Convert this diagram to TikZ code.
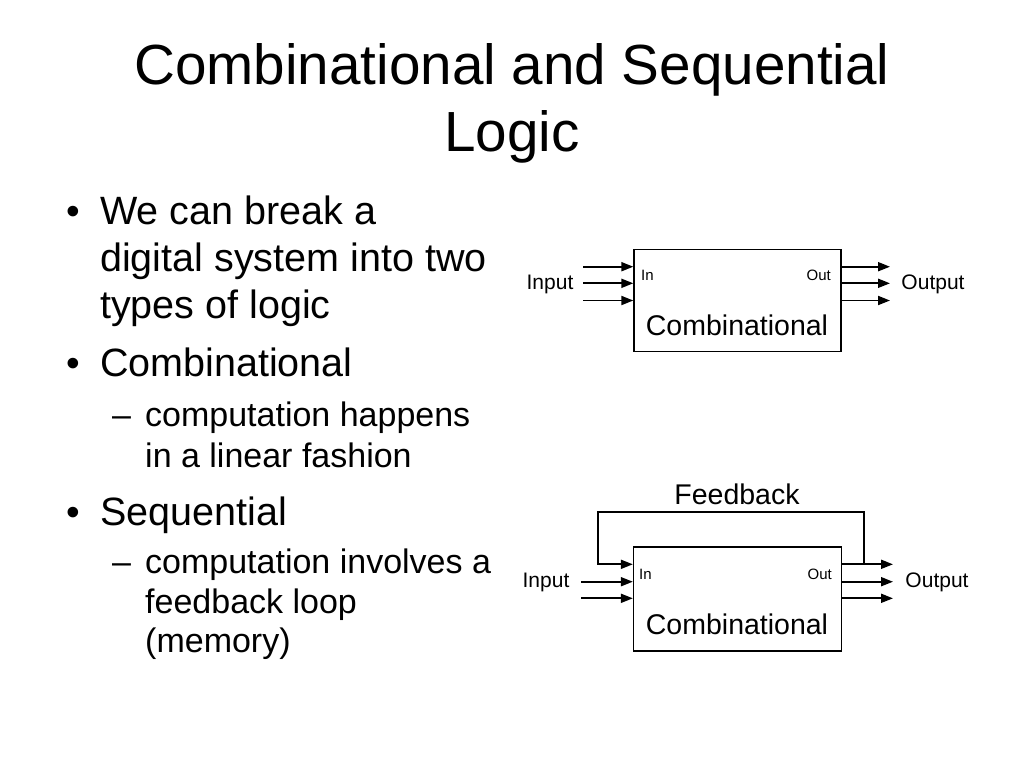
\documentclass[tikz,border=0pt]{standalone}
\usepackage{fontspec}
\setmainfont{Liberation Sans}
\usetikzlibrary{positioning, arrows.meta}

\tikzset{
  wire/.style={line width=1.8pt, -{Triangle[length=12pt, width=9pt]}},
  logicbox/.style={draw, line width=1.3pt, minimum width=207pt, minimum height=102pt, inner sep=0pt},
  txt/.style={inner sep=0pt, anchor=base west},
}
\newcommand{\fsz}[2]{\fontsize{#1}{#2}\selectfont}

\begin{document}
\begin{tikzpicture}[x=1pt, y=-1pt]
  \useasboundingbox (0,0) rectangle (1024,768);
  \fill[white] (0,0) rectangle (1024,768);

  % title
  \node[inner sep=0pt, anchor=base, font=\fsz{56.6}{67}] (title1) at (512,84) {Combinational and Sequential};
  \node[inner sep=0pt, anchor=base, font=\fsz{56.6}{67}] (title2) at (512,151) {Logic};

  % bullets
  \node[txt, font=\fsz{39}{47}] (b1) at (66,224) {•};
  \node[txt, font=\fsz{39.5}{47}] (l1) at (100,224) {We can break a};
  \node[txt, font=\fsz{39.5}{47}] (l2) at (100,271) {digital system into two};
  \node[txt, font=\fsz{39.5}{47}] (l3) at (100,318) {types of logic};
  \node[txt, font=\fsz{39}{47}] (b2) at (66,376) {•};
  \node[txt, font=\fsz{39.5}{47}] (l4) at (100,376) {Combinational};
  \node[txt, font=\fsz{34}{41}] (d1) at (112,426) {–};
  \node[txt, font=\fsz{34}{41}] (l5) at (145,426) {computation happens};
  \node[txt, font=\fsz{34}{41}] (l6) at (145,467) {in a linear fashion};
  \node[txt, font=\fsz{39}{47}] (b3) at (66,525) {•};
  \node[txt, font=\fsz{39.5}{47}] (l7) at (100,525) {Sequential};
  \node[txt, font=\fsz{34}{41}] (d2) at (112,573) {–};
  \node[txt, font=\fsz{34}{41}] (l8) at (145,573) {computation involves a};
  \node[txt, font=\fsz{34}{41}] (l9) at (145,613) {feedback loop};
  \node[txt, font=\fsz{34}{41}] (l10) at (145,652) {(memory)};

  % combinational block
  \node[logicbox] (comb) at (737.5,300.5) {};
  \node[font=\fsz{28.5}{34}] (combname) at (737,325) {Combinational};
  \node[inner sep=0pt, anchor=west, font=\fsz{15}{18}] (combin) at (641,275) {In};
  \node[inner sep=0pt, anchor=east, font=\fsz{15}{18}] (combout) at (831,275) {Out};
  \node[font=\fsz{21}{25}] (input) at (550,284) {Input};
  \node[font=\fsz{21}{25}] (output) at (933,284) {Output};
  \coordinate (in1) at (583,266.7);
  \coordinate (in2) at (583,283.3);
  \coordinate (in3) at (583,300.5);
  \coordinate (out1) at (890,266.7);
  \coordinate (out2) at (890,283.3);
  \coordinate (out3) at (890,300.5);
  \draw[wire] (in1) -- (in1 -| comb.west);
  \draw[wire] (in2) -- (in2 -| comb.west);
  \draw[wire] (in3) -- (in3 -| comb.west);
  \draw[wire] (out1 -| comb.east) -- (out1);
  \draw[wire] (out2 -| comb.east) -- (out2);
  \draw[wire] (out3 -| comb.east) -- (out3);

  % sequential block
  \node[logicbox, minimum width=208pt, minimum height=104pt] (seq) at (737.5,599) {};
  \node[font=\fsz{28.5}{34}] (seqname) at (737,624) {Combinational};
  \node[inner sep=0pt, anchor=west, font=\fsz{15}{18}] (seqin) at (639,574) {In};
  \node[inner sep=0pt, anchor=east, font=\fsz{15}{18}] (seqout) at (832,574) {Out};
  \node[font=\fsz{21}{25}] (input2) at (546,582) {Input};
  \node[font=\fsz{21}{25}] (output2) at (937,582) {Output};
  \node[font=\fsz{28.5}{34}] (feedback) at (737,494) {Feedback};
  \coordinate (fbjoint) at (864.3,564.3);
  \coordinate (fbleft) at (597.7,512.3);
  \coordinate (in5) at (581,581.7);
  \coordinate (in6) at (581,598.3);
  \coordinate (out4) at (893,564.3);
  \coordinate (out5) at (893,581.7);
  \coordinate (out6) at (893,598.3);
  \draw[wire] (fbjoint) |- (fbleft) |- (fbjoint -| seq.west);
  \draw[wire] (in5) -- (in5 -| seq.west);
  \draw[wire] (in6) -- (in6 -| seq.west);
  \draw[wire] (out4 -| seq.east) -- (out4);
  \draw[wire] (out5 -| seq.east) -- (out5);
  \draw[wire] (out6 -| seq.east) -- (out6);
\end{tikzpicture}
\end{document}
